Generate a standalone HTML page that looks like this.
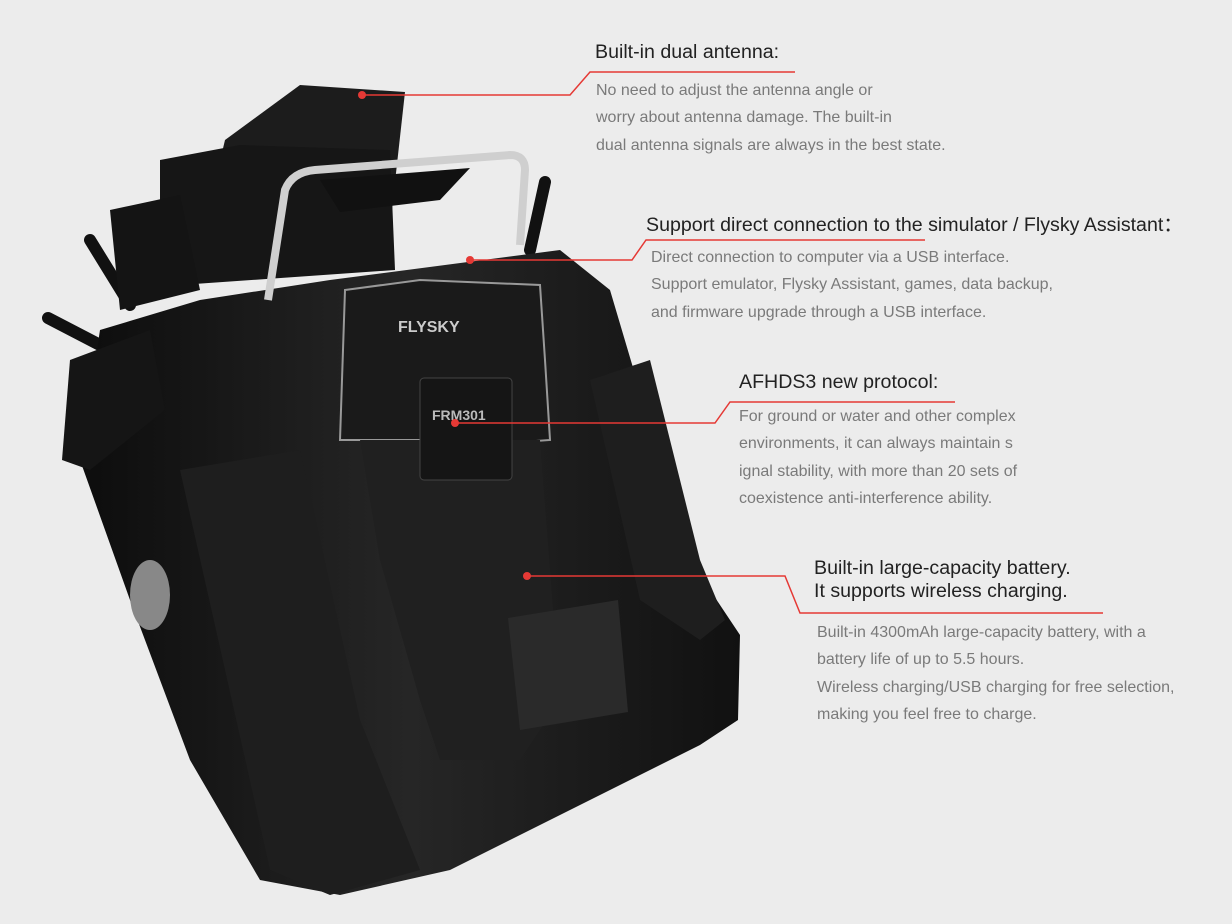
<!DOCTYPE html>
<html><head><meta charset="utf-8"><style>
body{margin:0;width:1232px;height:924px;background:#ececec;position:relative;overflow:hidden;font-family:"Liberation Sans",sans-serif}
.t{position:absolute;color:#222;font-size:19.6px;white-space:nowrap}
.b{position:absolute;color:#7a7a7a;font-size:16px;line-height:27.3px;white-space:nowrap}
svg{position:absolute;left:0;top:0}
</style></head><body>
<svg width="1232" height="924">
<defs><linearGradient id="g" x1="0" x2="1"><stop offset="0" stop-color="#0d0d0d"/><stop offset="0.5" stop-color="#262626"/><stop offset="1" stop-color="#111"/></linearGradient></defs>
<path d="M90,240 L130,305" stroke="#111" stroke-width="12" stroke-linecap="round"/>
<path d="M48,318 L100,345" stroke="#111" stroke-width="12" stroke-linecap="round"/>
<path d="M545,182 L530,250" stroke="#111" stroke-width="12" stroke-linecap="round"/>
<polygon points="225,140 300,85 405,92 388,245 200,245" fill="#1c1c1c"/>
<polygon points="160,160 240,145 390,150 395,270 180,285 160,230" fill="#161616"/>
<polygon points="110,210 180,195 200,290 120,310" fill="#141414"/>
<polygon points="100,330 200,300 330,280 560,250 610,290 690,560 740,635 738,720 700,745 450,870 340,895 260,880 190,760 130,600 80,460" fill="url(#g)"/>
<polygon points="70,360 150,330 165,410 90,470 62,460" fill="#151515"/>
<polygon points="180,470 300,450 360,720 420,870 330,895 270,870" fill="#1e1e1e"/>
<polygon points="590,380 650,360 700,560 725,620 700,640 640,600" fill="#1e1e1e"/>
<ellipse cx="150" cy="595" rx="20" ry="35" fill="#888"/>
<polygon points="345,290 420,280 540,285 545,360 550,440 480,445 420,440 340,440" fill="#1a1a1a" stroke="#999" stroke-width="2"/>
<text x="398" y="332" fill="#ccc" font-size="16" font-weight="bold" font-family="Liberation Sans">FLYSKY</text>
<polygon points="360,440 540,440 560,700 520,760 440,760 420,700 380,560" fill="#202020"/>
<rect x="420" y="378" width="92" height="102" rx="4" fill="#151515" stroke="#444"/>
<text x="432" y="420" fill="#bbb" font-size="14" font-weight="bold">FRM301</text>
<polygon points="508,618 618,600 628,712 520,730" fill="#2a2a2a"/>
<path d="M268,300 L285,190 Q292,172 315,170 L510,155 Q525,155 525,170 L520,245" fill="none" stroke="#cfcfcf" stroke-width="8"/>
<path d="M320,180 L470,168 L440,200 L340,212Z" fill="#111"/>
<g stroke="#e53935" stroke-width="1.5" fill="none">
<polyline points="362,95 570,95 590,72 795,72"/>
<polyline points="470,260 632,260 646,240 925,240"/>
<polyline points="455,423 715,423 730,402 955,402"/>
<polyline points="527,576 785,576 800,613 1103,613"/>
</g>
<g fill="#e53935"><circle cx="362" cy="95" r="4"/><circle cx="470" cy="260" r="4"/><circle cx="455" cy="423" r="4"/><circle cx="527" cy="576" r="4"/></g>
</svg>
<div class="t" style="left:595px;top:41px">Built-in dual antenna:</div>
<div class="b" style="left:596px;top:77px">No need to adjust the antenna angle or<br>worry about antenna damage. The built-in<br>dual antenna signals are always in the best state.</div>
<div class="t" style="left:646px;top:208px">Support direct connection to the simulator / Flysky Assistant：</div>
<div class="b" style="left:651px;top:244px">Direct connection to computer via a USB interface.<br>Support emulator, Flysky Assistant, games, data backup,<br>and firmware upgrade through a USB interface.</div>
<div class="t" style="left:739px;top:371px">AFHDS3 new protocol:</div>
<div class="b" style="left:739px;top:403px">For ground or water and other complex<br>environments, it can always maintain s<br>ignal stability, with more than 20 sets of<br>coexistence anti-interference ability.</div>
<div class="t" style="left:814px;top:557px;line-height:23px">Built-in large-capacity battery.<br>It supports wireless charging.</div>
<div class="b" style="left:817px;top:619px">Built-in 4300mAh large-capacity battery, with a<br>battery life of up to 5.5 hours.<br>Wireless charging/USB charging for free selection,<br>making you feel free to charge.</div>
</body></html>
